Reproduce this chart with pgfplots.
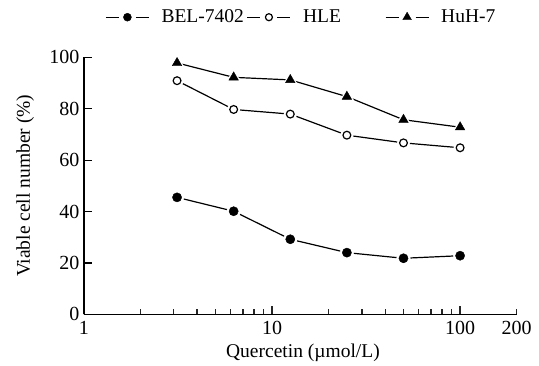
\documentclass[border=0pt]{standalone}
\usepackage{pgfplots}
\pgfplotsset{compat=1.18}
\usepackage{pgfplotstable}
\usepackage{fontspec}
\setmainfont{Liberation Serif}
\pgfplotsset{myleg/.style={legend image code/.code={\draw[black,line width=1.2pt] (0pt,0pt)--(13pt,0pt) (30pt,0pt)--(43pt,0pt);
    \draw[##1,mark size=#1] plot coordinates {(21.5pt,0pt)};}}}
\pgfplotstableread{
x y
3.125 45.5
6.25 40.1
12.5 29.2
25 24.0
50 21.8
100 22.8
}\bel
\pgfplotstableread{
x y
3.125 90.9
6.25 79.7
12.5 77.9
25 69.7
50 66.7
100 64.8
}\hle
\pgfplotstableread{
x y
3.125 97.8
6.25 92.2
12.5 91.2
25 84.7
50 75.7
100 72.8
}\huh
\begin{document}
\begin{tikzpicture}
\useasboundingbox (-84pt,-50.7pt) rectangle (455pt,314.3pt);
\begin{axis}[
  scale only axis,
  width=432.7pt, height=257pt,
  xmode=log,
  xmin=1, xmax=200, ymin=0, ymax=100,
  axis lines=left,
  axis line style={-, line width=1.2pt},
  tick align=inside,
  xtick style={draw=black!85, line width=1.5pt},
  minor x tick style={draw=black!85, line width=1.5pt},
  ytick style={black, line width=1.2pt},
  major tick length=8pt,
  minor tick length=5.5pt,
  log ticks with fixed point,
  /pgf/number format/assume math mode=true,
  extra x ticks={200},
  extra x tick labels={200},
  extra x tick style={major tick length=5.5pt},
  ytick={0,20,40,60,80,100},
  yticklabels={0,20,40,60,80,100},
  tick label style={font=\fontsize{20}{23}\selectfont},
  label style={font=\fontsize{19.5}{23}\selectfont},
  xticklabel style={yshift=-3pt},
  yticklabel style={xshift=-1pt},
  xlabel={Quercetin (µmol/L)},
  ylabel={Viable cell number (\%)},
  xlabel style={at={(axis description cs:0.506,-0.148)}, anchor=center},
  ylabel style={at={(axis description cs:-0.136,0.5)}, anchor=center},
  legend columns=3,
  legend style={draw=none, at={(axis description cs:0.5,1.156)}, anchor=center,
    font=\fontsize{19.5}{23}\selectfont, inner sep=0pt,
    nodes={inner sep=0pt}},
  clip=false,
]
\addplot[black, line width=1.2pt, no marks, forget plot] table {\bel};
\addplot[black, line width=1.2pt, no marks, forget plot] table {\hle};
\addplot[black, line width=1.2pt, no marks, forget plot] table {\huh};
\addplot[only marks, mark=*, mark size=6.8pt, white, forget plot] table {\bel};
\addplot[only marks, mark=*, mark size=6.3pt, white, forget plot] table {\hle};
\addplot[only marks, mark=triangle*, mark size=8pt, white, forget plot] table {\huh};
\addplot[only marks, mark=*, mark size=4.6pt, black, myleg=4pt] table {\bel};
\addlegendentry{\hspace*{12pt}BEL-7402\hspace*{3pt}}
\addplot[only marks, mark=o, mark size=3.9pt, black, mark options={line width=1.2pt, fill=white}, myleg=3.5pt] table {\hle};
\addlegendentry{\hspace*{12pt}\makebox[82pt][l]{HLE}}
\addplot[only marks, mark=triangle*, mark size=5.5pt, black, myleg=5pt] table {\huh};
\addlegendentry{\hspace*{12pt}HuH-7}
\end{axis}
\end{tikzpicture}
\end{document}
